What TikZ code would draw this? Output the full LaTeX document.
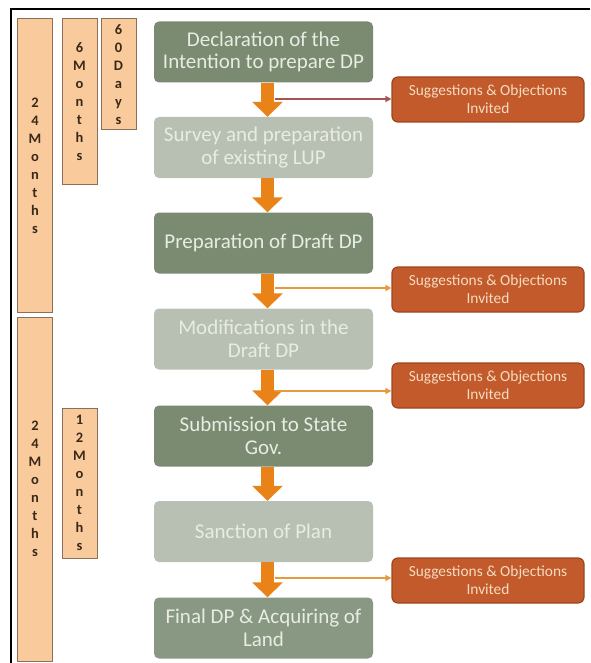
\documentclass[tikz,border=0pt]{standalone}
\usepackage{fontspec}
\setmainfont{Carlito}
\usetikzlibrary{arrows.meta}
\definecolor{stdark}{HTML}{7B8B71}
\definecolor{stlight}{HTML}{B8C0B3}
\definecolor{stfinal}{HTML}{889882}
\definecolor{sttext}{HTML}{E8ECE3}
\definecolor{sugfill}{HTML}{C25A2B}
\definecolor{sugdraw}{HTML}{9E4520}
\definecolor{sugtext}{HTML}{F6DCC0}
\definecolor{blockor}{HTML}{E98318}
\definecolor{lineor}{HTML}{E59A3E}
\definecolor{linered}{HTML}{A65552}
\definecolor{peach}{HTML}{F9CB9C}
\definecolor{peachdraw}{HTML}{8C6F58}
\definecolor{peachtext}{HTML}{3A2818}
\begin{document}
\begin{tikzpicture}[x=1pt,y=-1pt,
  stage/.style={rounded corners=5pt, minimum width=219pt, minimum height=61pt,
    inner sep=0pt, align=center, text=sttext,
    font=\fontsize{21}{22.5}\selectfont},
  sug/.style={rounded corners=6pt, fill=sugfill, draw=sugdraw, line width=1.2pt,
    minimum width=192pt, minimum height=45pt, inner sep=0pt, align=center,
    text=sugtext, font=\fontsize{15.4}{18}\selectfont},
  period/.style={fill=peach, draw=peachdraw, line width=1pt, minimum width=35pt,
    inner sep=0pt, align=center, text=peachtext,
    font=\fontsize{14.5}{18}\selectfont\bfseries},
  flow/.style={line width=13pt, draw=blockor,
    -{Triangle[width=30pt,length=15pt]}},
  invite/.style={line width=1.4pt, -{Triangle[width=6pt,length=6pt]}}
]
\useasboundingbox (0,0) rectangle (590,663);
% frame
\draw[line width=1.5pt] (11,663) -- (11,9) -- (590,9);

% stages
\node[stage, fill=stdark]  (s1) at (263.5,52)   {Declaration of the\\Intention to prepare DP};
\node[stage, fill=stlight] (s2) at (263.5,147.5){Survey and preparation\\of existing LUP};
\node[stage, fill=stdark]  (s3) at (263.5,243)  {Preparation of Draft DP};
\node[stage, fill=stlight] (s4) at (263.5,339)  {Modifications in the\\Draft DP};
\node[stage, fill=stdark]  (s5) at (263.5,436)  {Submission to State\\Gov.};
\node[stage, fill=stlight] (s6) at (263.5,531.5){Sanction of Plan};
\node[stage, fill=stfinal] (s7) at (263.5,628)  {Final DP \& Acquiring of\\Land};

% block arrows
\foreach \a/\b in {s1/s2,s2/s3,s3/s4,s4/s5,s5/s6,s6/s7}
  \draw[flow] ([xshift=4pt]\a.south) -- ([xshift=4pt]\b.north);

% suggestions boxes
\node[sug] (q1) at (488,99.5)  {Suggestions \& Objections\\Invited};
\node[sug] (q2) at (488,289.5) {Suggestions \& Objections\\Invited};
\node[sug] (q3) at (488,385.5) {Suggestions \& Objections\\Invited};
\node[sug] (q4) at (488,580.5) {Suggestions \& Objections\\Invited};

\coordinate (c1) at (275,99);
\coordinate (c2) at (275,288);
\coordinate (c3) at (275,391);
\coordinate (c4) at (275,578);
\draw[invite, linered] (c1) -- (q1.west |- c1);
\draw[invite, lineor] (c2) -- (q2.west |- c2);
\draw[invite, lineor] (c3) -- (q3.west |- c3);
\draw[invite, lineor] (c4) -- (q4.west |- c4);

% periods
\node[period, minimum height=293pt] (pA) at (35,165.5)  {2\\4\\M\\o\\n\\t\\h\\s};
\node[period, minimum height=165pt] (pB) at (79.5,101.5) {6\\M\\o\\n\\t\\h\\s};
\node[period, minimum height=111pt] (pC) at (118.5,74.5) {6\\0\\D\\a\\y\\s};
\node[period, minimum height=344pt] (pD) at (35,489)    {2\\4\\M\\o\\n\\t\\h\\s};
\node[period, minimum height=150pt] (pE) at (79.5,483)  {1\\2\\M\\o\\n\\t\\h\\s};
\end{tikzpicture}
\end{document}
